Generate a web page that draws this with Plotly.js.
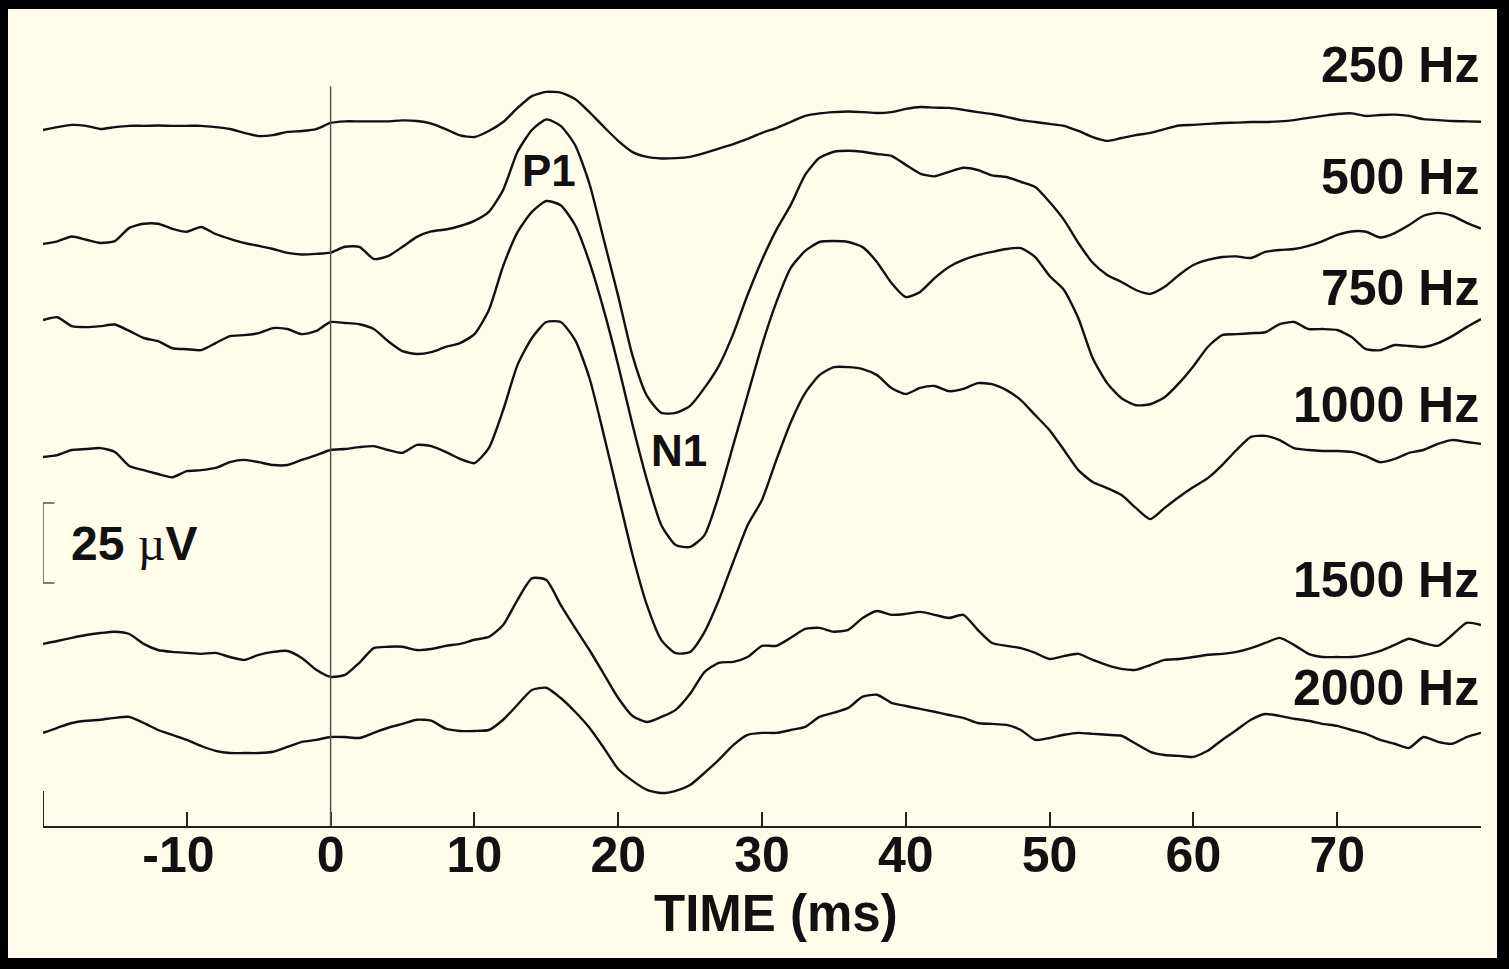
<!DOCTYPE html>
<html>
<head>
<meta charset="utf-8">
<script src="https://cdn.plot.ly/plotly-3.0.1.min.js"></script>
<style>
  html, body { margin: 0; padding: 0; background: #000; overflow: hidden; }
  #chart { position: absolute; left: 8px; top: 9px; width: 1489px; height: 949px; }
</style>
</head>
<body>
<div id="chart"></div>
<script>
// Sample times (ms), one per millisecond from -20 to 80
const timeMs = [
  -20,-19,-18,-17,-16,-15,-14,-13,-12,-11,-10,-9,-8,-7,-6,-5,-4,-3,-2,-1,
  0,1,2,3,4,5,6,7,8,9,10,11,12,13,14,15,16,17,18,19,
  20,21,22,23,24,25,26,27,28,29,30,31,32,33,34,35,36,37,38,39,
  40,41,42,43,44,45,46,47,48,49,50,51,52,53,54,55,56,57,58,59,
  60,61,62,63,64,65,66,67,68,69,70,71,72,73,74,75,76,77,78,79,80
];

// Averaged responses (µV, relative to each trace's starting level)
const amp250 = [
  0,0.9,1.6,1.3,0.3,0.9,1.3,1.3,1.4,1.3,1.3,1.3,0.9,0.3,-0.9,-1.9,-1.6,-0.6,-0.3,0.3,
  2.2,2.7,2.7,2.7,2.7,3.0,2.8,2.0,0.3,-1.7,
  -2.2,-0.3,2.5,6.9,10.6,11.9,11.7,9.7,5.6,1.0,
  -3.4,-6.9,-8.4,-8.9,-8.8,-8.4,-7.2,-5.8,-4.4,-2.8,
  -0.9,0.6,2.5,4.4,5.2,5.6,5.8,5.6,5.3,5.6,
  6.6,7.2,7.0,6.9,6.3,5.6,5.0,4.1,3.1,2.5,
  1.9,1.3,-0.3,-2.2,-3.4,-2.5,-1.6,-0.9,0.3,1.4,
  1.6,1.9,2.2,2.3,2.5,2.5,2.7,3.1,3.8,4.4,
  5.0,5.2,4.4,4.7,4.8,4.4,3.4,3.1,2.8,2.7,
  2.6
];
const amp500 = [
  0,0.8,2.3,1.3,0.3,0.9,5.0,6.3,6.3,4.7,3.8,5.3,3.1,1.6,0.3,-0.6,-1.6,-2.8,-3.3,-3.1,
  -2.7,-0.9,-0.9,-4.7,-3.8,-0.9,2.2,3.9,4.5,5.6,
  7.2,10.0,16.9,28.8,35.6,38.9,36.9,30.9,18.8,1.3,
  -16.3,-35.0,-47.5,-52.8,-52.8,-50.6,-45.0,-38.1,-28.1,-15.9,
  -5.0,4.4,12.2,21.6,26.9,28.8,29.1,28.8,28.1,27.5,
  24.7,22.0,21.1,22.5,23.8,23.1,21.4,20.9,19.4,17.8,
  13.1,7.5,0.3,-5.9,-9.7,-11.9,-14.4,-15.6,-13.4,-9.7,
  -6.6,-5.0,-4.1,-3.9,-4.4,-2.5,-1.9,-1.6,-0.6,0.9,
  2.8,3.9,3.8,2.0,3.4,5.9,8.8,9.7,8.8,6.6,
  4.8
];
const amp750 = [
  0,0.9,-1.9,-2.2,-1.9,-1.4,-3.4,-5.6,-6.6,-8.8,-9.1,-9.4,-7.2,-5.0,-4.7,-4.1,-2.5,-2.8,-4.4,-3.4,
  -0.6,-0.9,-1.3,-2.8,-6.6,-9.7,-10.6,-10.0,-8.4,-7.2,
  -4.4,3.1,16.9,27.5,33.8,37.2,35.9,29.7,18.1,3.1,
  -14.1,-32.8,-50.0,-64.1,-70.3,-70.9,-67.2,-54.7,-39.1,-23.4,
  -7.8,5.6,16.3,21.6,24.4,24.7,24.4,22.8,18.1,11.6,
  7.2,8.8,13.1,16.6,18.8,20.3,21.3,22.2,22.5,19.7,
  13.8,9.4,0.6,-11.9,-19.7,-24.4,-26.6,-26.3,-24.1,-19.7,
  -14.4,-8.4,-4.7,-4.4,-4.1,-3.8,-1.3,-0.6,-2.8,-2.8,
  -3.1,-5.3,-9.1,-9.4,-7.8,-8.1,-8.4,-7.2,-5.0,-2.2,
  0.3
];
const amp1000 = [
  0,0.6,2.2,2.5,2.8,1.6,-2.8,-4.1,-5.3,-6.3,-4.4,-4.1,-3.4,-1.6,-0.9,-1.6,-2.5,-2.5,-0.9,0.6,
  2.2,2.5,3.1,3.4,2.2,1.3,3.8,3.4,1.6,-0.6,
  -1.9,2.8,14.7,28.8,37.2,42.2,42.2,36.6,24.7,6.9,
  -11.9,-30.6,-46.3,-57.2,-61.3,-60.9,-54.7,-44.7,-32.8,-21.3,
  -13.4,-0.9,10.9,20.0,25.6,28.1,28.1,27.5,25.6,21.6,
  19.7,21.6,22.2,20.6,21.3,23.1,22.8,20.9,17.8,13.1,
  8.4,2.2,-4.1,-7.8,-9.7,-11.9,-15.9,-19.4,-15.9,-12.5,
  -9.4,-6.6,-2.5,2.2,6.3,6.6,5.3,2.8,2.2,1.9,
  1.9,1.6,0.3,-1.6,-0.6,1.3,2.2,4.1,5.3,4.7,
  4.1
];
const amp1500 = [
  0,0.9,1.9,2.8,3.4,3.8,3.1,0,-1.9,-2.5,-2.8,-3.1,-2.8,-4.1,-5.0,-3.4,-2.5,-2.2,-4.4,-8.1,
  -10.3,-9.7,-5.9,-1.3,-0.9,-0.9,-1.9,-1.6,-0.6,0,
  1.3,2.2,5.9,13.8,20.5,20.0,12.2,5.0,-1.9,-9.4,
  -16.9,-22.5,-24.4,-22.8,-20.6,-15.6,-8.8,-5.9,-5.6,-4.1,
  -0.6,-0.6,1.9,4.7,5.0,3.8,4.4,8.1,10.3,9.1,
  9.4,10.0,9.1,8.1,9.1,4.4,0.3,-0.6,-1.3,-2.8,
  -4.7,-3.8,-3.1,-5.0,-6.6,-7.8,-8.1,-6.6,-5.0,-4.7,
  -4.1,-3.4,-3.1,-2.5,-1.3,0.3,1.9,-0.3,-3.1,-4.1,
  -4.1,-4.1,-3.4,-2.2,-0.3,1.6,0.3,-0.6,2.8,6.6,
  5.9
];
const amp2000 = [
  0,1.6,3.1,3.8,4.1,4.7,5.0,3.1,0.9,-0.6,-2.2,-4.1,-5.6,-6.3,-6.3,-6.3,-5.9,-4.4,-2.8,-2.2,
  -1.3,-1.3,-1.6,0,1.6,2.8,4.1,3.8,1.3,0.6,
  0.6,0.9,4.1,8.8,13.4,14.1,10.9,6.6,1.6,-4.7,
  -11.3,-15.0,-17.8,-18.8,-18.1,-16.3,-12.5,-8.4,-3.8,-0.6,
  0,0,0.9,1.9,5.0,6.3,7.8,11.3,11.9,9.4,
  8.4,7.5,6.6,5.6,4.7,3.1,2.8,2.5,0.9,-2.2,
  -1.6,-0.6,0,-0.3,-0.6,-0.9,-3.4,-5.9,-6.9,-7.2,
  -7.5,-5.6,-2.2,0.9,4.1,5.9,5.3,4.4,3.8,2.8,
  2.2,0.9,-0.3,-2.2,-3.4,-4.7,-1.3,-2.8,-3.4,-1.3,
  0
];

const frequencyLabels = ['250 Hz', '500 Hz', '750 Hz', '1000 Hz', '1500 Hz', '2000 Hz'];
const tickValues = [-20, -10, 0, 10, 20, 30, 40, 50, 60, 70, 80];
const tickLabels = ['', '-10\u2004', '0', '10', '20', '30', '40', '50', '60', '70', ''];
const scaleBarMicrovolts = 25;

// Vertical stacking of the traces (µV above the time axis)
const traceOffsets = [217.5, 181.9, 158.1, 115.3, 56.9, 29.1];
const labelLevels = [237.8, 202.8, 168.1, 131.6, 76.9, 43.1];

const series = [amp250, amp500, amp750, amp1000, amp1500, amp2000];
const ink = '#111111';
const cream = '#FFFCEA';
const boldFont = 'Liberation Sans, Arial, Helvetica, sans-serif';

const traces = series.map((vals, i) => ({
  type: 'scatter',
  mode: 'lines',
  name: frequencyLabels[i],
  x: timeMs,
  y: vals.map(v => v + traceOffsets[i]),
  line: { color: ink, width: 2.4, shape: 'spline', smoothing: 0.6 },
  hoverinfo: 'skip',
  showlegend: false
}));

const annotations = frequencyLabels.map((lab, i) => ({
  x: 80, y: labelLevels[i], xref: 'x', yref: 'y',
  text: lab, showarrow: false, xanchor: 'right', yanchor: 'middle',
  font: { family: boldFont, size: 50, color: ink, weight: 700 }
}));

annotations.push(
  { x: 15.2, y: 205, xref: 'x', yref: 'y', text: 'P1', showarrow: false,
    xanchor: 'center', yanchor: 'middle',
    font: { family: boldFont, size: 44, color: ink, weight: 700 } },
  { x: 24.2, y: 117.5, xref: 'x', yref: 'y', text: 'N1', showarrow: false,
    xanchor: 'center', yanchor: 'middle',
    font: { family: boldFont, size: 44, color: ink, weight: 700 } },
  { x: -18.2, y: 88.4, xref: 'x', yref: 'y',
    text: '25 <span style="font-family:Liberation Serif;font-weight:normal">µ</span>V',
    showarrow: false, xanchor: 'left', yanchor: 'middle',
    font: { family: boldFont, size: 48, color: ink, weight: 700 } },
  { x: 0.51, y: -0.1065, xref: 'paper', yref: 'paper', text: 'TIME (ms)',
    showarrow: false, xanchor: 'center', yanchor: 'middle',
    font: { family: boldFont, size: 51, color: ink, weight: 700 } }
);

const barBase = 75.9;
const barTop = barBase + scaleBarMicrovolts;

const shapes = [
  // stimulus onset marker
  { type: 'line', xref: 'x', yref: 'y', x0: 0, x1: 0, y0: 0, y1: 231.2,
    line: { color: '#555555', width: 1.5 } },
  // taller left end of the time axis
  { type: 'line', xref: 'x', yref: 'y', x0: -20, x1: -20, y0: 0, y1: 10.9,
    line: { color: '#222222', width: 2 } },
  // 25 µV calibration bracket
  { type: 'path', xref: 'x', yref: 'y',
    path: `M -19.2 ${barTop} L -20 ${barTop} L -20 ${barBase} L -19.2 ${barBase}`,
    line: { color: '#555555', width: 1.5 } }
];

const layout = {
  width: 1489, height: 949,
  margin: { l: 35, r: 16, t: 0, b: 132 },
  paper_bgcolor: cream,
  plot_bgcolor: cream,
  showlegend: false,
  xaxis: {
    range: [-20, 80],
    showgrid: false, zeroline: false,
    showline: true, linecolor: '#222222', linewidth: 2,
    ticks: 'inside', ticklen: 14, tickwidth: 2, tickcolor: '#222222',
    tickmode: 'array', tickvals: tickValues, ticktext: tickLabels,
    ticklabelstandoff: -16,
    tickfont: { family: boldFont, size: 50, color: ink, weight: 700 },
    fixedrange: true
  },
  yaxis: {
    range: [0, 255.3125],
    visible: false, showgrid: false, zeroline: false, fixedrange: true
  },
  annotations: annotations,
  shapes: shapes
};

Plotly.newPlot('chart', traces, layout, { staticPlot: true, displayModeBar: false });
</script>
</body>
</html>
